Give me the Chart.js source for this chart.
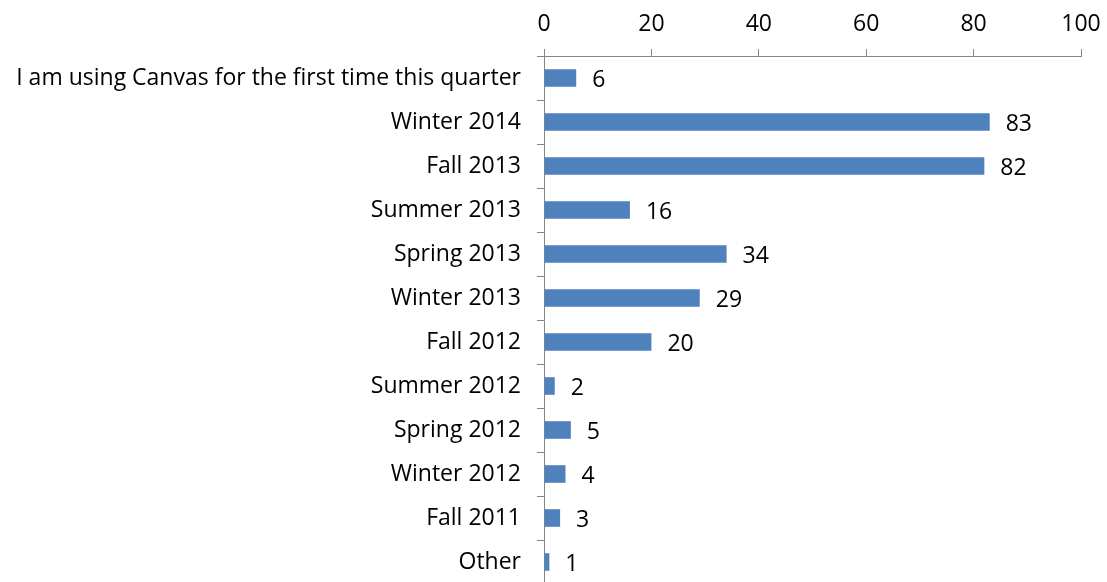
<!DOCTYPE html>
<html>
<head>
<meta charset="utf-8">
<script src="https://cdn.jsdelivr.net/npm/chart.js@4/dist/chart.umd.min.js"></script>
<style>
  html, body { margin: 0; padding: 0; background: #fff; overflow: hidden; }
  canvas { display: block; }
</style>
</head>
<body>
<canvas id="myChart" width="1107" height="584"></canvas>
<script>
// Quarter categories and response counts
const categorias = [
  'I am using Canvas for the first time this quarter',
  'Winter 2014', 'Fall 2013', 'Summer 2013', 'Spring 2013', 'Winter 2013',
  'Fall 2012', 'Summer 2012', 'Spring 2012', 'Winter 2012', 'Fall 2011', 'Other'
];
const valores = [6, 83, 82, 16, 34, 29, 20, 2, 5, 4, 3, 1];
const eixoX = { min: 0, max: 100, passo: 20 };

const fonte = { family: '"Open Sans", Lato, sans-serif', size: 23 };
const cinza = '#868686';

// Draws the value next to the end of each bar
const rotulosValores = {
  id: 'rotulosValores',
  afterDatasetsDraw(chart) {
    const ctx = chart.ctx;
    const meta = chart.getDatasetMeta(0);
    ctx.save();
    ctx.font = fonte.size + 'px ' + fonte.family;
    ctx.fillStyle = '#000';
    ctx.textAlign = 'left';
    ctx.textBaseline = 'middle';
    meta.data.forEach(function (bar, i) {
      ctx.fillText(String(valores[i]), bar.x + 16, bar.y + 2);
    });
    ctx.restore();
  }
};

document.addEventListener('DOMContentLoaded', function () {
  const ctx = document.getElementById('myChart').getContext('2d');
  new Chart(ctx, {
    type: 'bar',
    data: {
      labels: categorias,
      datasets: [{
        data: valores,
        backgroundColor: '#4F81BD',
        borderWidth: 0,
        barPercentage: 0.4,
        categoryPercentage: 1
      }]
    },
    options: {
      indexAxis: 'y',
      responsive: false,
      animation: false,
      layout: { padding: { left: 0, right: 26, top: 0, bottom: 0 } },
      plugins: {
        legend: { display: false },
        tooltip: { enabled: false }
      },
      scales: {
        x: {
          position: 'top',
          min: eixoX.min,
          max: eixoX.max,
          afterFit(scale) {
            scale.height = 56;
            scale.paddingLeft = 0;
            scale.paddingRight = 0;
          },
          ticks: { stepSize: eixoX.passo, color: '#000', font: fonte, padding: 11 },
          grid: { drawOnChartArea: false, tickLength: 7, color: cinza, lineWidth: 1 },
          border: { color: cinza, width: 1 }
        },
        y: {
          afterFit(scale) {
            scale.width = 544;
            scale.paddingTop = 0;
            scale.paddingBottom = 0;
          },
          ticks: { color: '#000', font: fonte, padding: 16, autoSkip: false },
          grid: { drawOnChartArea: false, tickLength: 7, color: cinza, lineWidth: 1, offset: true },
          border: { color: cinza, width: 1 }
        }
      }
    },
    plugins: [rotulosValores]
  });
});
</script>
</body>
</html>
